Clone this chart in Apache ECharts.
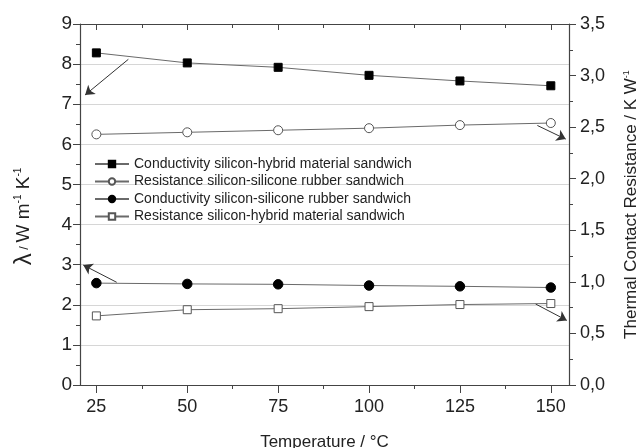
<!DOCTYPE html>
<html>
<head>
<meta charset="utf-8">
<script src="https://cdn.jsdelivr.net/npm/echarts@6/dist/echarts.min.js"></script>
<style>html,body{margin:0;padding:0;background:#fff;}#c{width:636px;height:448px;}</style>
</head>
<body>
<div id="c"></div>
<script>
var temperatures = [25, 50, 75, 100, 125, 150];
var condHybrid = [8.28, 8.03, 7.92, 7.72, 7.58, 7.46];          // left axis
var resSilicone = [2.43, 2.45, 2.47, 2.49, 2.52, 2.54];         // right axis
var condSilicone = [2.54, 2.52, 2.51, 2.48, 2.46, 2.43];        // left axis
var resHybrid = [0.67, 0.73, 0.74, 0.76, 0.78, 0.79];           // right axis
var seriesNames = [
  'Conductivity silicon-hybrid material sandwich',
  'Resistance silicon-silicone rubber sandwich',
  'Conductivity silicon-silicone rubber sandwich',
  'Resistance silicon-hybrid material sandwich'
];
var xMajorTicks = [25, 50, 75, 100, 125, 150];
var xMinorTicks = [37.5, 62.5, 87.5, 112.5, 137.5];
// annotation arrows [x0, y0, x1, y1] in left-axis units
var arrows = [
  [33.8, 8.12, 21.9, 7.23],
  [30.6, 2.56, 21.4, 2.99],
  [146.3, 6.47, 154.1, 6.13],
  [145.8, 2.02, 154.4, 1.61]
];

function pairs(vals) { return temperatures.map(function (t, i) { return [t, vals[i]]; }); }
var FONT = 'Liberation Sans, Arial, sans-serif';
var AX = '#444';
var LINE = '#6a6a6a';

var chart = echarts.init(document.getElementById('c'), null, { renderer: 'canvas' });

var xBase = { type: 'value', min: 20.5, max: 155, splitLine: { show: false } };
function xAx(extra) { return Object.assign({}, xBase, extra); }

var option = {
  animation: false,
  backgroundColor: '#fff',
  textStyle: { fontFamily: FONT },
  grid: { left: 80, right: 67, top: 24, bottom: 63, containLabel: false, outerBoundsMode: 'none' },
  legend: {
    orient: 'vertical', left: 89, top: 152,
    itemWidth: 34, itemHeight: 8, itemGap: 3.5,
    textStyle: { fontFamily: FONT, fontSize: 14, color: '#222', lineHeight: 13 },
    data: seriesNames
  },
  xAxis: [
    xAx({
      position: 'bottom',
      axisLine: { show: true, lineStyle: { color: AX, width: 1.2 } },
      axisTick: { show: true, inside: false, length: 8, customValues: xMajorTicks, lineStyle: { color: AX } },
      axisLabel: { show: true, customValues: xMajorTicks, fontSize: 18, color: '#222', margin: 13, fontFamily: FONT },
      name: 'Temperature / °C', nameLocation: 'middle', nameGap: 49,
      nameTextStyle: { fontSize: 17, color: '#222', fontFamily: FONT }
    }),
    xAx({
      position: 'bottom',
      axisLine: { show: false },
      axisTick: { show: true, inside: false, length: 4, customValues: xMinorTicks, lineStyle: { color: AX } },
      axisLabel: { show: false }
    }),
    xAx({
      position: 'top',
      axisLine: { show: true, lineStyle: { color: AX, width: 1.2 } },
      axisTick: { show: true, inside: true, length: 6, customValues: xMajorTicks, lineStyle: { color: AX } },
      axisLabel: { show: false }
    }),
    xAx({
      position: 'top',
      axisLine: { show: false },
      axisTick: { show: true, inside: true, length: 4, customValues: xMinorTicks, lineStyle: { color: AX } },
      axisLabel: { show: false }
    })
  ],
  yAxis: [
    {
      type: 'value', position: 'left', min: 0, max: 9, interval: 1,
      axisLine: { show: true, lineStyle: { color: AX, width: 1.2 } },
      axisTick: { show: true, inside: false, length: 7, lineStyle: { color: AX } },
      minorTick: { show: true, splitNumber: 2, length: 4, lineStyle: { color: AX } },
      axisLabel: { fontSize: 19, color: '#222', margin: 8, fontFamily: FONT },
      splitLine: { show: true, lineStyle: { color: '#d6d6d6', width: 1 } },
      name: '{l|λ}{s| / }{m|W m}{sup|-1}{m| K}{sup|-1}',
      nameLocation: 'middle', nameRotate: 90, nameGap: 44,
      nameTextStyle: {
        color: '#222', fontFamily: FONT, padding: [0, 24, 0, 0],
        rich: {
          l: { fontSize: 24, fontFamily: FONT, color: '#222' },
          s: { fontSize: 13, fontFamily: FONT, color: '#222' },
          m: { fontSize: 19, fontFamily: FONT, color: '#222' },
          sup: { fontSize: 10, fontFamily: FONT, color: '#222', padding: [0, 0, 11, 0] }
        }
      }
    },
    {
      type: 'value', position: 'right', min: 0, max: 3.5, interval: 0.5,
      axisLine: { show: true, lineStyle: { color: AX, width: 1.2 } },
      axisTick: { show: true, inside: false, length: 7, lineStyle: { color: AX } },
      minorTick: { show: true, splitNumber: 2, length: 4, lineStyle: { color: AX } },
      axisLabel: {
        fontSize: 18, color: '#222', margin: 11, fontFamily: FONT,
        formatter: function (v) { return v.toFixed(1).replace('.', ','); }
      },
      splitLine: { show: false },
      name: '{m|Thermal Contact Resistance / K W}{sup|-1}',
      nameLocation: 'middle', nameRotate: 90, nameGap: 53,
      nameTextStyle: {
        color: '#222', fontFamily: FONT,
        rich: {
          m: { fontSize: 17, fontFamily: FONT, color: '#222' },
          sup: { fontSize: 9, fontFamily: FONT, color: '#222', padding: [0, 0, 9, 0] }
        }
      }
    }
  ],
  series: [
    {
      name: seriesNames[0], type: 'line', xAxisIndex: 0, yAxisIndex: 0,
      data: pairs(condHybrid), symbol: 'rect', symbolSize: 8,
      lineStyle: { color: LINE, width: 1 }, itemStyle: { color: '#000', borderColor: '#000', borderWidth: 1 },
      markLine: {
        silent: true, symbol: ['none', 'arrow'], symbolSize: 9,
        label: { show: false },
        lineStyle: { color: '#333', width: 1, type: 'solid' },
        itemStyle: { color: '#333' },
        emphasis: { disabled: true },
        data: arrows.map(function (a) { return [{ coord: [a[0], a[1]] }, { coord: [a[2], a[3]] }]; })
      },
      z: 5
    },
    {
      name: seriesNames[1], type: 'line', xAxisIndex: 0, yAxisIndex: 1,
      data: pairs(resSilicone), symbol: 'circle', symbolSize: 9,
      lineStyle: { color: LINE, width: 1 }, itemStyle: { color: '#fff', borderColor: '#555', borderWidth: 1 },
      z: 5
    },
    {
      name: seriesNames[2], type: 'line', xAxisIndex: 0, yAxisIndex: 0,
      data: pairs(condSilicone), symbol: 'circle', symbolSize: 9.5,
      lineStyle: { color: LINE, width: 1 }, itemStyle: { color: '#000', borderColor: '#000', borderWidth: 1 },
      z: 5
    },
    {
      name: seriesNames[3], type: 'line', xAxisIndex: 0, yAxisIndex: 1,
      data: pairs(resHybrid), symbol: 'rect', symbolSize: 8,
      lineStyle: { color: LINE, width: 1 }, itemStyle: { color: '#fff', borderColor: '#555', borderWidth: 1 },
      z: 5
    }
  ]
};
chart.setOption(option);
</script>
</body>
</html>
